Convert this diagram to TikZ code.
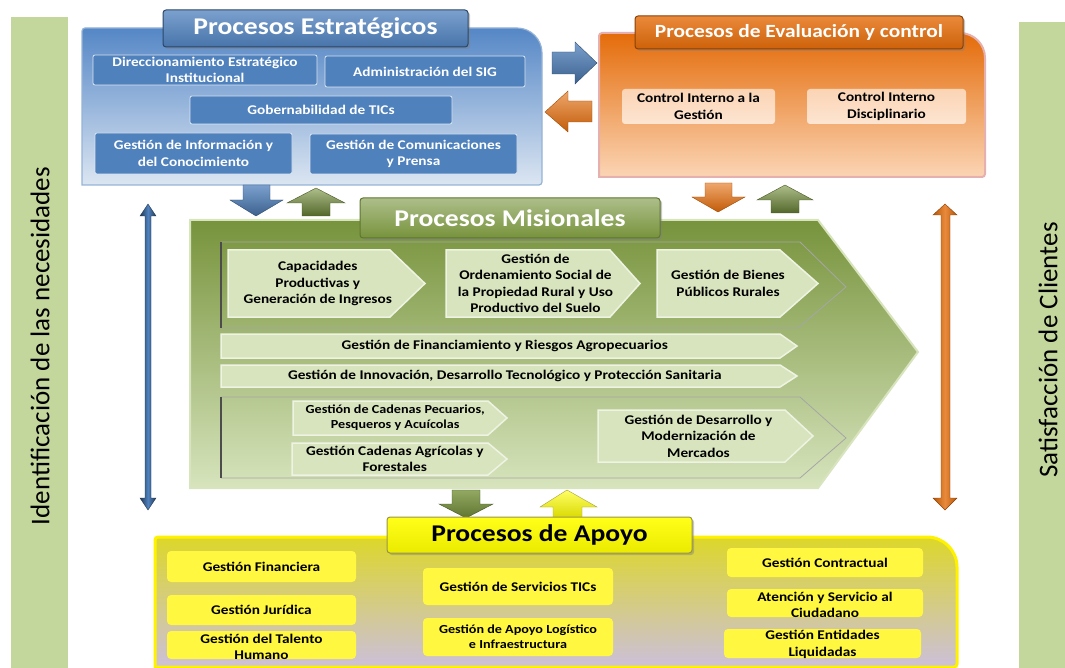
\documentclass[tikz,border=0pt]{standalone}
\usepackage{fontspec}
\setmainfont{Carlito}[FakeStretch=1.15]
\newfontfamily\sidefont{Carlito}
\usetikzlibrary{shadows}
\definecolor{sidebar}{HTML}{C3D69B}
\definecolor{sblue}{HTML}{4F81BD}
\definecolor{sbluetop}{HTML}{5587C6}
\definecolor{sbluebot}{HTML}{DCE6F2}
\definecolor{sbluebrd}{HTML}{95B3D7}
\definecolor{otop}{HTML}{E46C0A}
\definecolor{obot}{HTML}{FBD5B5}
\definecolor{obrd}{HTML}{E6B0AE}
\definecolor{peach}{HTML}{FBD4B4}
\definecolor{gtop}{HTML}{77933C}
\definecolor{gbot}{HTML}{D7E4BD}
\definecolor{chevfill}{HTML}{D8E4BD}
\definecolor{chevbrd}{HTML}{EEF3E3}
\definecolor{ytop}{HTML}{DDD72A}
\definecolor{ybot}{HTML}{CCC0DA}
\definecolor{ybox}{HTML}{FFF740}
\newcommand\boxfont{\bfseries\fontsize{13.3}{16.5}\selectfont}
\newcommand\smallboxfont{\bfseries\fontsize{12.3}{15}\selectfont}
\newcommand\titlefont{\bfseries\fontsize{24}{28}\selectfont}
\newcommand\chev[8]{%
  \path[chevshape] (#2,#5) -- (#3,#5) -- (#4,{(#5+#6)/2}) -- (#3,#6) -- (#2,#6) -- cycle;
  \node[chevtext, font=#8] (#1) at ({(#2+(#3+#4)/2)/2},{(#5+#6)/2}) {#7};}
\tikzset{
  bluebox/.style={draw=sbluebot, line width=0.8, fill=sblue, text=white, font=\boxfont, align=center, inner sep=0, rounded corners=2},
  peachbox/.style={top color=peach, bottom color=peach!60!white, text=black, font=\boxfont, align=center, inner sep=0, rounded corners=3},
  ybx/.style={fill=ybox, text=black, font=\boxfont, align=center, inner sep=0, rounded corners=4},
  chevshape/.style={fill=chevfill, draw=chevbrd, line width=1.5},
  chevtext/.style={text=black, align=center, inner sep=0},
  tab/.style={inner sep=0, rounded corners=3, line width=1, drop shadow={opacity=0.45, shadow xshift=2pt, shadow yshift=-2pt}},
  frameline/.style={draw=gray!70, line width=0.8},
}
\begin{document}
\begin{tikzpicture}[x=1pt,y=-1pt]
\useasboundingbox (0,0) rectangle (1065,668);
% side bars
\fill[sidebar] (11,17) rectangle (68,668);
\node[rotate=90, font=\sidefont\fontsize{27}{30}\selectfont] (needs) at (40,346) {Identificación de las necesidades};
\fill[sidebar] (1019,22) rectangle (1065,668);
\node[rotate=90, font=\sidefont\fontsize{27}{30}\selectfont] (clients) at (1048,350) {Satisfacción de Clientes};

% strategic panel
\path[top color=sbluetop, bottom color=sbluebot, draw=sbluebrd, line width=1.2]
  (300,185) -- (82,185) [rounded corners=3] -- (82,28) [rounded corners=25] -- (542,28) [rounded corners=3] -- (542,185) [rounded corners=18] -- cycle;
\node[tab, top color=sblue!75!white, bottom color=sblue!90!black, draw=sblue!55!black, minimum width=305, minimum height=37, text=white, font=\titlefont] (stitle) at (315.5,28.5) {Procesos Estratégicos};
\node[bluebox, minimum width=224, minimum height=30] (dir) at (205,70) {Direccionamiento Estratégico\\Institucional};
\node[bluebox, minimum width=200, minimum height=31] (sig) at (425,71.5) {Administración del SIG};
\node[bluebox, minimum width=262, minimum height=28] (gob) at (321,110) {Gobernabilidad de TICs};
\node[bluebox, minimum width=197, minimum height=41] (info) at (193.5,153.5) {Gestión de Información y\\del Conocimiento};
\node[bluebox, minimum width=207, minimum height=40] (com) at (413.5,154) {Gestión de Comunicaciones\\y Prensa};

% evaluation panel
\path[top color=otop, bottom color=obot, draw=obrd, line width=2]
  (800,177) -- (599,177) [rounded corners=3] -- (599,33) [rounded corners=25] -- (985,33) [rounded corners=3] -- (985,177) [rounded corners=20] -- cycle;
\node[tab, top color=otop!80!white, bottom color=otop!90!black, draw=otop!60!black, minimum width=328, minimum height=33, text=white, font=\bfseries\fontsize{18.6}{22}\selectfont] (etitle) at (799,32.5) {Procesos de Evaluación y control};
\node[peachbox, minimum width=153, minimum height=35] (cig) at (698.5,106.5) {Control Interno a la\\Gestión};
\node[peachbox, minimum width=159, minimum height=35] (cid) at (886.5,106.5) {Control Interno\\Disciplinario};

% horizontal block arrows
\path[top color=sblue!75!white, bottom color=sblue!75!black, draw=sblue!60!black, line width=0.4]
  (552,52) -- (575,52) -- (575,42) -- (597,63) -- (575,84) -- (575,74) -- (552,74) -- cycle;
\path[top color=otop!60!white, bottom color=otop!85!black, draw=otop!70!black, line width=0.4]
  (592,101) -- (568,101) -- (568,91) -- (545,112) -- (568,132) -- (568,122) -- (592,122) -- cycle;

% misional panel
\path[top color=gtop, bottom color=gbot, draw=gbot, line width=2]
  (190,220) -- (818,220) -- (918,352) -- (818,488) -- (190,488) -- cycle;
\node[tab, top color=gtop!60!white, bottom color=gtop, draw=gtop!80!black, minimum width=300, minimum height=40, text=white, font=\titlefont] (mtitle) at (510,218) {Procesos Misionales};
% group frames
\draw[frameline] (221,242) -- (800,242) -- (846,287) -- (798,328) -- (221,328);
\draw[draw=black!70, line width=1.2] (221,242) -- (221,328);
\draw[frameline] (221,397) -- (800,397) -- (846,438) -- (800,478) -- (221,478);
\draw[draw=black!70, line width=1.2] (221,397) -- (221,478);
% chevrons
\chev{cap}{228}{390}{425}{250}{317}{Capacidades\\Productivas y\\Generación de Ingresos}{\boxfont}
\chev{ord}{446}{610}{640}{250}{317}{Gestión de\\Ordenamiento Social de\\la Propiedad Rural y Uso\\Productivo del Suelo}{\boxfont}
\chev{bie}{657}{780}{818}{250}{317}{Gestión de Bienes\\Públicos Rurales}{\boxfont}
\chev{fin}{221}{780}{797}{334}{358}{Gestión de Financiamiento y Riesgos Agropecuarios}{\boxfont}
\chev{inn}{221}{780}{797}{365}{387}{Gestión de Innovación, Desarrollo Tecnológico y Protección Sanitaria}{\boxfont}
\chev{pec}{293}{488}{507}{401}{435}{Gestión de Cadenas Pecuarios,\\Pesqueros y Acuícolas}{\smallboxfont}
\chev{agr}{292}{488}{507}{443}{475}{Gestión Cadenas Agrícolas y\\Forestales}{\boxfont}
\chev{mer}{598}{785}{813}{410}{462}{Gestión de Desarrollo y\\Modernización de\\Mercados}{\boxfont}

% vertical block arrows (top)
\path[top color=sblue!75!white, bottom color=sblue!75!black, draw=sblue!60!black, line width=0.4]
  (243,185) -- (270,185) -- (270,200) -- (283,200) -- (256,216) -- (230,200) -- (243,200) -- cycle;
\path[top color=gtop!60!white, bottom color=gtop!70!black, draw=gtop!60!black, line width=0.4]
  (302,216) -- (330,216) -- (330,203) -- (345,203) -- (316,188) -- (287,203) -- (302,203) -- cycle;
\path[top color=otop!60!white, bottom color=otop!85!black, draw=otop!70!black, line width=0.4]
  (705,183) -- (732,183) -- (732,197) -- (745,197) -- (718,212) -- (692,197) -- (705,197) -- cycle;
\path[top color=gtop!60!white, bottom color=gtop!70!black, draw=gtop!60!black, line width=0.4]
  (771,213) -- (799,213) -- (799,200) -- (813,200) -- (785,185) -- (757,200) -- (771,200) -- cycle;
% vertical block arrows (bottom)
\path[top color=gtop!80!white, bottom color=gtop!80!black, draw=gtop!60!black, line width=0.4]
  (452,490) -- (480,490) -- (480,504) -- (493,504) -- (466,518) -- (439,504) -- (452,504) -- cycle;
\path[top color=yellow!60!white, bottom color=yellow!85!black, draw=yellow!60!black, line width=0.4]
  (553,518) -- (582,518) -- (582,507) -- (597,507) -- (567,490) -- (540,507) -- (553,507) -- cycle;

% long double arrows
\path[left color=sblue!45!black, right color=sblue!45!black, middle color=sblue, draw=sblue!40!black, line width=0.4]
  (148,204) -- (156,216) -- (151,216) -- (151,498) -- (156,498) -- (148,510) -- (140,498) -- (145,498) -- (145,216) -- (140,216) -- cycle;
\path[left color=otop!80!black, right color=otop!80!black, middle color=otop!80!white, draw=otop!60!black, line width=0.4]
  (945,204) -- (957,215) -- (950,215) -- (950,498) -- (957,498) -- (945,510) -- (933,498) -- (941,498) -- (941,215) -- (933,215) -- cycle;

% apoyo panel
\path[top color=ytop, bottom color=ybot, draw=yellow, line width=3]
  (500,667) -- (155,667) [rounded corners=3] -- (155,537) [rounded corners=30] -- (957,537) [rounded corners=3] -- (957,667) [rounded corners=20] -- cycle;
\node[tab, top color=yellow!90!white, bottom color=yellow!92!black, draw=yellow!55!black, minimum width=305, minimum height=36, text=black, font=\titlefont] (atitle) at (539.5,535) {Procesos de Apoyo};
\node[ybx, minimum width=189, minimum height=31] (gfin) at (261.5,566.5) {Gestión Financiera};
\node[ybx, minimum width=189, minimum height=30] (gjur) at (261.5,610) {Gestión Jurídica};
\node[ybx, minimum width=189, minimum height=28] (gtal) at (261.5,645) {};
\node[font=\boxfont, align=center, inner sep=0] (gtalt) at (261.5,647) {Gestión del Talento\\Humano};
\node[ybx, minimum width=190, minimum height=37] (gtic) at (518,586.5) {Gestión de Servicios TICs};
\node[ybx, minimum width=190, minimum height=38, font=\smallboxfont] (glog) at (518,637) {Gestión de Apoyo Logístico\\e Infraestructura};
\node[ybx, minimum width=196, minimum height=29] (gcon) at (825,562.5) {Gestión Contractual};
\node[ybx, minimum width=196, minimum height=28] (gate) at (825,603) {};
\node[font=\boxfont, align=center, inner sep=0] (gatet) at (825,605) {Atención y Servicio al\\Ciudadano};
\node[ybx, minimum width=197, minimum height=29] (gliq) at (822.5,643.5) {};
\node[font=\boxfont, align=center, inner sep=0] (gliqt) at (822.5,644.5) {Gestión Entidades\\Liquidadas};
\end{tikzpicture}
\end{document}
